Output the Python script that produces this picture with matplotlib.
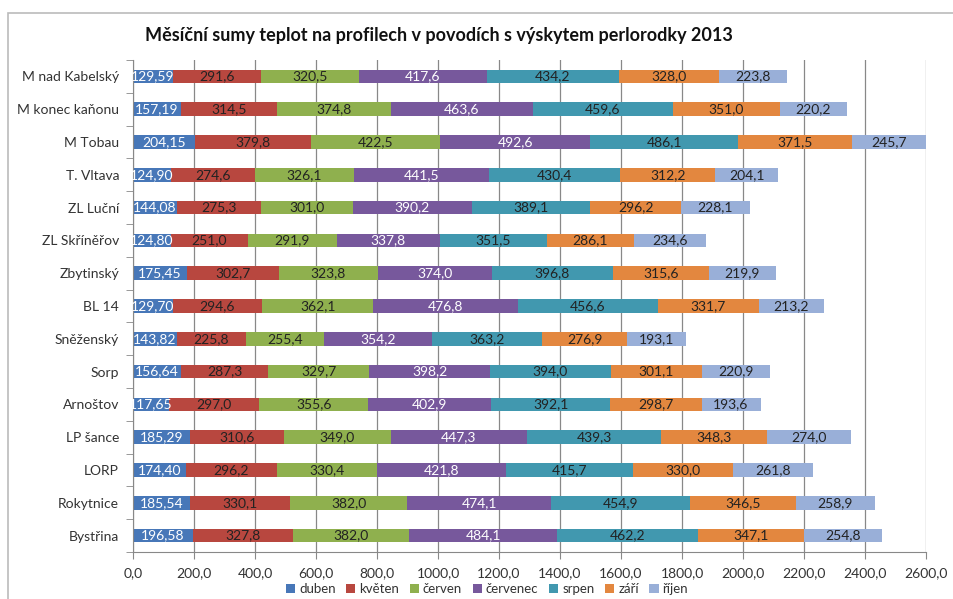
import matplotlib.pyplot as plt
from matplotlib.patches import Rectangle
import numpy as np

plt.rcParams['font.family'] = ['Lato', 'DejaVu Sans']

profiles = ['M nad Kabelský', 'M konec kaňonu', 'M Tobau', 'T. Vltava', 'ZL Luční',
            'ZL Skříněřov', 'Zbytinský', 'BL 14', 'Sněženský', 'Sorp', 'Arnoštov',
            'LP šance', 'LORP', 'Rokytnice', 'Bystřina']

duben = [129.59, 157.19, 204.15, 124.90, 144.08, 124.80, 175.45, 129.70, 143.82, 156.64,
         117.65, 185.29, 174.40, 185.54, 196.58]
kveten = [291.6, 314.5, 379.8, 274.6, 275.3, 251.0, 302.7, 294.6, 225.8, 287.3,
          297.0, 310.6, 296.2, 330.1, 327.8]
cerven = [320.5, 374.8, 422.5, 326.1, 301.0, 291.9, 323.8, 362.1, 255.4, 329.7,
          355.6, 349.0, 330.4, 382.0, 382.0]
cervenec = [417.6, 463.6, 492.6, 441.5, 390.2, 337.8, 374.0, 476.8, 354.2, 398.2,
            402.9, 447.3, 421.8, 474.1, 484.1]
srpen = [434.2, 459.6, 486.1, 430.4, 389.1, 351.5, 396.8, 456.6, 363.2, 394.0,
         392.1, 439.3, 415.7, 454.9, 462.2]
zari = [328.0, 351.0, 371.5, 312.2, 296.2, 286.1, 315.6, 331.7, 276.9, 301.1,
        298.7, 348.3, 330.0, 346.5, 347.1]
rijen = [223.8, 220.2, 245.7, 204.1, 228.1, 234.6, 219.9, 213.2, 193.1, 220.9,
         193.6, 274.0, 261.8, 258.9, 254.8]

months = ['duben', 'květen', 'červen', 'červenec', 'srpen', 'září', 'říjen']
series = [duben, kveten, cerven, cervenec, srpen, zari, rijen]
colors = ['#4777B8', '#B8473F', '#8FB04E', '#77589C', '#4198AF', '#E3873F', '#99AFD8']
text_colors = ['white', '#222222', '#222222', 'white', '#222222', '#222222', '#222222']
decimals = [2, 1, 1, 1, 1, 1, 1]

fig = plt.figure(figsize=(9.54, 5.99), dpi=100)
fig.patches.append(Rectangle((8 / 954, -0.01), 1.0, 1 - 13 / 599 + 0.01,
                             transform=fig.transFigure, fill=False,
                             edgecolor='#BBBBBB', linewidth=1.2))

ax = fig.add_axes([133 / 954, 1 - 552 / 599, 793 / 954, 492 / 599])

y = np.arange(len(profiles))
left = np.zeros(len(profiles))
for vals, name, c, tc, d in zip(series, months, colors, text_colors, decimals):
    vals = np.array(vals)
    bars = ax.barh(y, vals, left=left, height=0.42, color=c, label=name, zorder=2)
    labels = [f'{v:.{d}f}'.replace('.', ',') for v in vals]
    ax.bar_label(bars, labels=labels, label_type='center', color=tc, fontsize=10)
    left += vals

ax.set_ylim(len(profiles) - 0.5, -0.5)
ax.set_xlim(0, 2600)
ax.set_xticks(np.arange(0, 2601, 200))
ax.set_xticklabels([f'{v:.1f}'.replace('.', ',') for v in np.arange(0, 2601, 200)],
                   fontsize=10, color='#333333')
ax.set_yticks(y)
ax.set_yticklabels(profiles, fontsize=10, color='#333333')
ax.set_yticks(np.arange(-0.5, len(profiles), 1), minor=True)
ax.tick_params(axis='y', which='major', length=0, pad=10)
ax.tick_params(axis='y', which='minor', length=5, color='#888888')
ax.tick_params(axis='x', length=5, color='#888888', pad=6)
ax.grid(axis='x', color='#888888', linewidth=0.9, zorder=0)
for s in ['top', 'right']:
    ax.spines[s].set_visible(False)
for s in ['left', 'bottom']:
    ax.spines[s].set_color('#888888')

fig.text(439 / 954, 1 - 36 / 599, 'Měsíční sumy teplot na profilech v povodích s výskytem perlorodky 2013',
         ha='center', va='center', fontsize=13, fontweight='bold', color='#111111')

fig.legend(loc='center', bbox_to_anchor=(487 / 954, 1 - 589 / 599), ncol=7, frameon=False,
           fontsize=9.5, handlelength=0.7, handleheight=0.7, handletextpad=0.3,
           columnspacing=0.8, labelcolor='#333333')

fig.savefig('out.png', dpi=100)
